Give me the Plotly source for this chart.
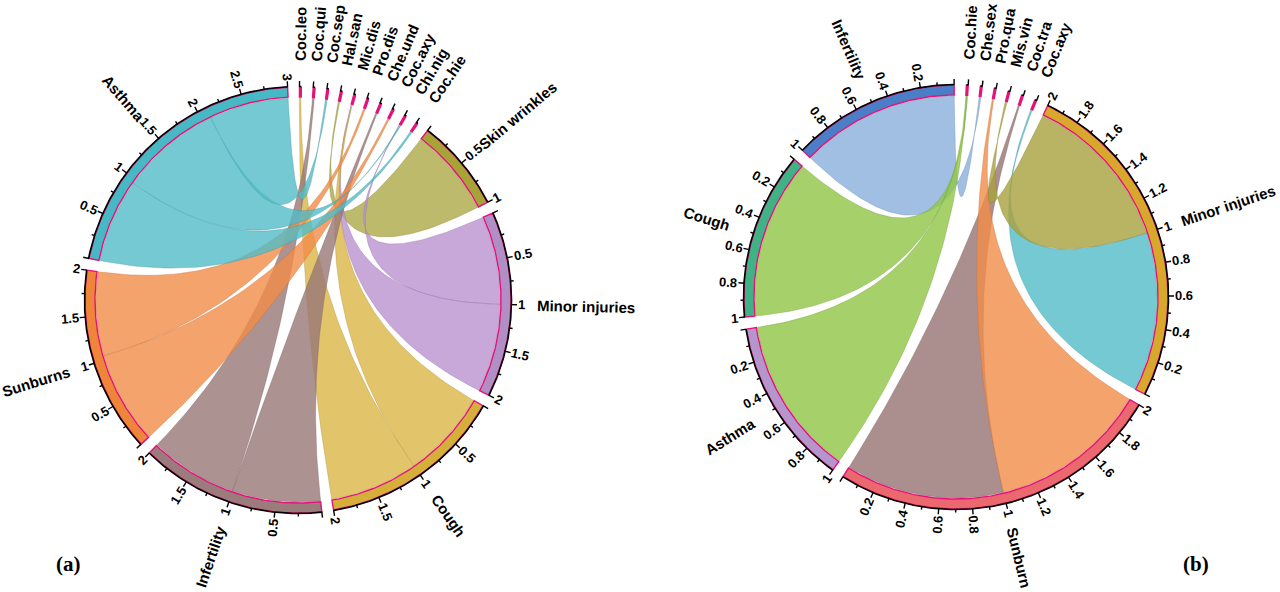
import math
import numpy as np
import plotly.graph_objects as go

# ---------------- data: panel (a) ----------------
A_SECTORS = ["Skin wrinkles", "Minor injuries", "Cough", "Infertility", "Sunburns", "Asthma"]
A_TOTALS = [1, 2, 2, 2, 2, 3]
A_SPECIES = ["Coc.leo", "Coc.qui", "Coc.sep", "Hal.san", "Mic.dis", "Pro.dis",
             "Che.und", "Coc.axy", "Chi.nig", "Coc.hie"]
A_LINK_SECTOR = ["Skin wrinkles", "Minor injuries", "Minor injuries", "Cough", "Cough",
                 "Infertility", "Infertility", "Sunburns", "Sunburns", "Asthma", "Asthma", "Asthma"]
A_LINK_SPECIES = ["Hal.san", "Chi.nig", "Mic.dis", "Mic.dis", "Coc.leo",
                  "Che.und", "Coc.qui", "Coc.axy", "Pro.dis", "Coc.hie", "Chi.nig", "Coc.sep"]
A_LINK_VALUE = [1.0, 1.0, 1.0, 1.0, 1.0, 1.0, 1.0, 1.05, 0.95, 0.95, 1.15, 0.9]
A_MAJOR_STEP = 0.5
A_MINOR_STEP = 0.25

# ---------------- data: panel (b) ----------------
B_SECTORS = ["Infertility", "Cough", "Asthma", "Sunburn", "Minor injuries"]
B_TOTALS = [1, 1, 1, 2, 2]
B_SPECIES = ["Coc.hie", "Che.sex", "Pro.qua", "Mis.vin", "Coc.tra", "Coc.axy"]
B_LINK_SECTOR = ["Infertility", "Cough", "Asthma", "Sunburn", "Sunburn", "Minor injuries", "Minor injuries"]
B_LINK_SPECIES = ["Che.sex", "Coc.hie", "Coc.hie", "Coc.tra", "Pro.qua", "Coc.axy", "Mis.vin"]
B_LINK_VALUE = [1.0, 1.0, 1.0, 1.0, 1.0, 1.0, 1.0]
B_MAJOR_STEP = 0.2
B_MINOR_STEP = 0.1

# ---------------- styles ----------------
A_BAND_COLORS = {"Skin wrinkles": (168, 163, 55), "Minor injuries": (177, 143, 198),
                 "Cough": (214, 175, 58), "Infertility": (155, 124, 124),
                 "Sunburns": (238, 133, 56), "Asthma": (70, 185, 197)}
A_LINK_COLORS = {"Skin wrinkles": (173, 169, 71), "Minor injuries": (185, 146, 208),
                 "Cough": (219, 181, 69), "Infertility": (153, 119, 119),
                 "Sunburns": (243, 140, 72), "Asthma": (81, 188, 199)}
B_BAND_COLORS = {"Infertility": (74, 126, 198), "Cough": (64, 178, 134),
                 "Asthma": (181, 149, 203), "Sunburn": (235, 104, 110),
                 "Minor injuries": (216, 168, 44)}
B_LINK_COLORS = {"Coc.hie": (144, 198, 69), "Che.sex": (137, 175, 220),
                 "Pro.qua": (243, 140, 72), "Mis.vin": (168, 161, 61),
                 "Coc.tra": (150, 115, 115), "Coc.axy": (81, 188, 199)}
MAGENTA = "rgb(228,18,122)"
FONT = "Liberation Sans, Arial, sans-serif"
NAME_SIZE = 15
TICK_SIZE = 13

CHAR_W = {'.': .278, ' ': .278, 'a': .556, 'b': .611, 'c': .556, 'd': .611, 'e': .556, 'f': .333,
          'g': .611, 'h': .611, 'i': .278, 'j': .278, 'k': .556, 'l': .278, 'm': .889, 'n': .611,
          'o': .611, 'p': .611, 'q': .611, 'r': .389, 's': .556, 't': .333, 'u': .611, 'v': .556,
          'w': .778, 'x': .556, 'y': .556, 'z': .5, 'A': .722, 'C': .722, 'H': .722, 'I': .278,
          'M': .833, 'P': .667, 'S': .667}


def text_w(s, size):
    return sum(CHAR_W.get(ch, .556) for ch in s) * size


def pt(c, r, th):
    a = math.radians(th)
    return c[0] + r * math.cos(a), c[1] - r * math.sin(a)


def build_layout(order, widths, start, direction, gap):
    pos = {}
    th = start
    for name, w in zip(order, widths):
        pos[name] = (th, direction, w)
        th = th + direction * (w + gap)
    return pos


def rgba(c, a):
    return f"rgba({c[0]},{c[1]},{c[2]},{a})"


fig = go.Figure()
annotations = []


def add_label(center, r0, th, text, size):
    w = text_w(text, size)
    x, y = pt(center, r0 + w / 2, th)
    phi = th % 360
    if 90 < phi <= 270:
        phi = phi - 180
    if phi > 270:
        phi = phi - 360
    annotations.append(dict(x=x, y=y, xref="x", yref="y", text=f"<b>{text}</b>", showarrow=False,
                            textangle=-phi, xanchor="center", yanchor="middle",
                            font=dict(family=FONT, size=size, color="black")))


def bezier(p0, c, p2, n=60):
    xs, ys = [], []
    for t in np.linspace(0, 1, n):
        xs.append((1 - t) ** 2 * p0[0] + 2 * t * (1 - t) * c[0] + t * t * p2[0])
        ys.append((1 - t) ** 2 * p0[1] + 2 * t * (1 - t) * c[1] + t * t * p2[1])
    return xs, ys


def draw_panel(center, R, sectors, totals, species, order_names, link_sec, link_sp, link_val,
               start, direction, gap, ws, major, minor, band_cols, link_col_fn):
    unit = (360 - gap * (len(sectors) + len(species)) - ws * len(species)) / sum(totals)
    widths = [ws if n in species else totals[sectors.index(n)] * unit for n in order_names]
    pos = build_layout(order_names, widths, start, direction, gap)

    def ang(name, v):
        th0, d, w = pos[name]
        if name in species:
            return th0 + d * v * ws
        return th0 + d * v * unit

    r_link = R - 11
    sp_count = {s: link_sp.count(s) for s in species}
    sp_used = {s: 0 for s in species}
    sec_used = {s: 0.0 for s in sectors}
    for sec, sp, val in zip(link_sec, link_sp, link_val):
        v0 = sec_used[sec]
        v1 = v0 + val
        sec_used[sec] = v1
        a0, a1 = sorted([ang(sec, v0), ang(sec, v1)])
        k = sp_used[sp]
        n = sp_count[sp]
        sp_used[sp] += 1
        b0, b1 = sorted([ang(sp, k / n), ang(sp, (k + 1) / n)])
        xs, ys = [], []
        for th in np.linspace(a0, a1, 40):
            x, y = pt(center, r_link, th)
            xs.append(x); ys.append(y)
        bx, by = bezier(pt(center, r_link, a1), center, pt(center, r_link, b0))
        xs += bx; ys += by
        for th in np.linspace(b0, b1, 5):
            x, y = pt(center, r_link, th)
            xs.append(x); ys.append(y)
        bx, by = bezier(pt(center, r_link, b1), center, pt(center, r_link, a0))
        xs += bx; ys += by
        col = link_col_fn(sec, sp)
        fig.add_trace(go.Scatter(x=xs, y=ys, mode="lines", fill="toself",
                                 fillcolor=rgba(col, 0.8),
                                 line=dict(color=rgba(tuple(int(c * 0.8) for c in col), 0.6), width=0.6),
                                 hoverinfo="skip"))

    tx, ty = [], []
    for name in order_names:
        th0, d, w = pos[name]
        th1 = th0 + d * w
        lo, hi = sorted([th0, th1])
        angs = np.linspace(lo, hi, max(3, int((hi - lo) * 2)))
        xs = [pt(center, R, a)[0] for a in angs] + [pt(center, R - 10, a)[0] for a in angs[::-1]]
        ys = [pt(center, R, a)[1] for a in angs] + [pt(center, R - 10, a)[1] for a in angs[::-1]]
        xs.append(xs[0]); ys.append(ys[0])
        fill = MAGENTA if name in species else rgba(band_cols[name], 1)
        fig.add_trace(go.Scatter(x=xs, y=ys, mode="lines", fill="toself", fillcolor=fill,
                                 line=dict(color=MAGENTA, width=1.4), hoverinfo="skip"))
        ax = [pt(center, R + 0.5, a) for a in angs]
        fig.add_trace(go.Scatter(x=[p[0] for p in ax], y=[p[1] for p in ax], mode="lines",
                                 line=dict(color="black", width=1.6), hoverinfo="skip"))
        total = 1 if name in species else totals[sectors.index(name)]
        nmin = 0 if name in species else int(round(total / minor))
        for i in range(nmin + 1):
            v = i * minor
            th = ang(name, 0) if name in species else ang(name, v)
            is_major = abs(v / major - round(v / major)) < 1e-6
            L = 6 if is_major else 3.5
            p1 = pt(center, R, th); p2 = pt(center, R + L, th)
            tx += [p1[0], p2[0], None]; ty += [p1[1], p2[1], None]
            if is_major and v > 1e-9:
                add_label(center, R + 7, th, f"{round(v, 2):g}", TICK_SIZE)
        th = ang(name, 0.5) if name in species else ang(name, total / 2)
        add_label(center, R + 26, th, name, NAME_SIZE)
    fig.add_trace(go.Scatter(x=tx, y=ty, mode="lines", line=dict(color="black", width=1.4),
                             hoverinfo="skip"))


draw_panel((298, 300), 213, A_SECTORS, A_TOTALS, A_SPECIES, A_SPECIES + A_SECTORS,
           A_LINK_SECTOR, A_LINK_SPECIES, A_LINK_VALUE, 89.6, -1, 3.2, 0.5,
           A_MAJOR_STEP, A_MINOR_STEP, A_BAND_COLORS, lambda sec, sp: A_LINK_COLORS[sec])

draw_panel((956, 297), 212, B_SECTORS, B_TOTALS, B_SPECIES, B_SECTORS + B_SPECIES[::-1],
           B_LINK_SECTOR, B_LINK_SPECIES, B_LINK_VALUE, 90.5, 1, 3.3, 0.5,
           B_MAJOR_STEP, B_MINOR_STEP, B_BAND_COLORS, lambda sec, sp: B_LINK_COLORS[sp])

annotations.append(dict(x=68, y=564, xref="x", yref="y", text="<b>(a)</b>", showarrow=False,
                        font=dict(family="Liberation Serif, Times New Roman, serif", size=21, color="black")))
annotations.append(dict(x=1196, y=564, xref="x", yref="y", text="<b>(b)</b>", showarrow=False,
                        font=dict(family="Liberation Serif, Times New Roman, serif", size=21, color="black")))

fig.update_layout(width=1280, height=592, margin=dict(l=0, r=0, t=0, b=0),
                  paper_bgcolor="white", plot_bgcolor="white", showlegend=False,
                  xaxis=dict(range=[0, 1280], visible=False, fixedrange=True),
                  yaxis=dict(range=[592, 0], visible=False, fixedrange=True),
                  annotations=annotations)
fig.write_html("out.html", config={"displayModeBar": False},
               post_script="document.body.style.margin='0';document.body.style.overflow='hidden';")
